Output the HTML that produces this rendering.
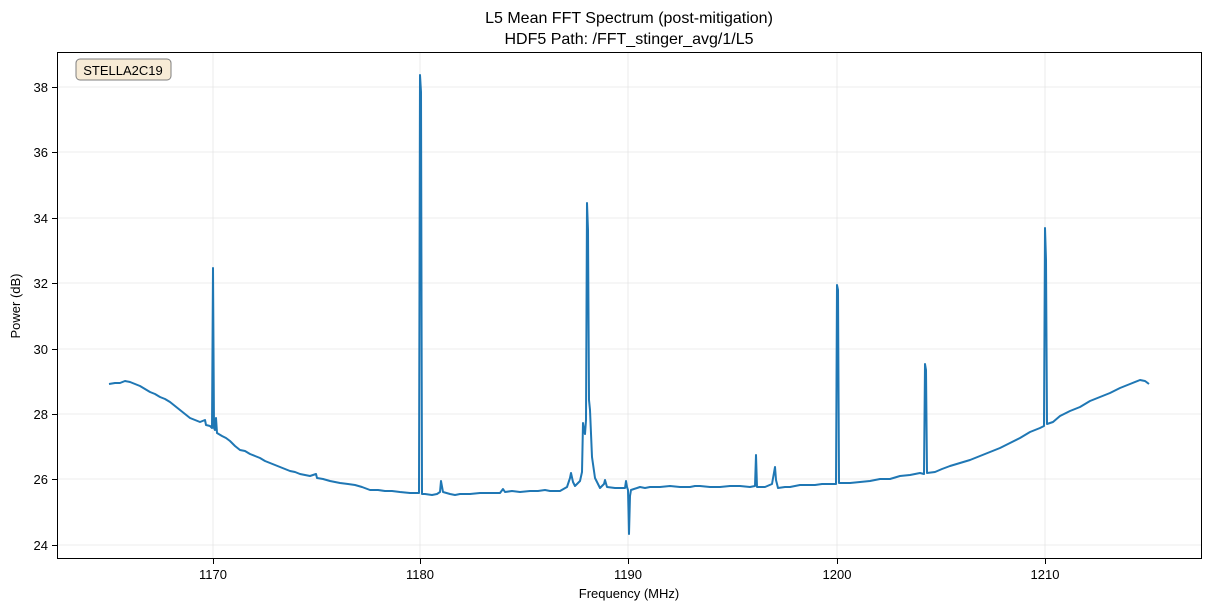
<!DOCTYPE html>
<html><head><meta charset="utf-8"><style>body{margin:0;background:#fff}</style></head><body>
<svg width="1211" height="611" xmlns="http://www.w3.org/2000/svg" font-family="Liberation Sans, DejaVu Sans, sans-serif">
<rect width="1211" height="611" fill="#fff"/>
<g stroke="#e6e6e6" stroke-width="0.8">
<line x1="213" y1="52" x2="213" y2="559"/><line x1="420" y1="52" x2="420" y2="559"/><line x1="628" y1="52" x2="628" y2="559"/><line x1="837" y1="52" x2="837" y2="559"/><line x1="1045" y1="52" x2="1045" y2="559"/>
<line x1="57" y1="87" x2="1202" y2="87"/><line x1="57" y1="152" x2="1202" y2="152"/><line x1="57" y1="218" x2="1202" y2="218"/><line x1="57" y1="283" x2="1202" y2="283"/><line x1="57" y1="349" x2="1202" y2="349"/><line x1="57" y1="414" x2="1202" y2="414"/><line x1="57" y1="479" x2="1202" y2="479"/><line x1="57" y1="545" x2="1202" y2="545"/>
</g>
<polyline fill="none" stroke="#1f77b4" stroke-width="2" stroke-linejoin="round" points="109,384 115,383 120,383 125,381 130,382 135,384 140,386 145,389 150,392 155,394 160,397 165,399 170,402 175,406 180,410 185,414 190,418 195,420 200,422 205,420 206,425 210,426 212,428 213,268 214,428 215,430 216,418 217,433 222,436 226,438 230,441 235,446 240,450 245,451 250,454 255,456 260,458 265,461 270,463 275,465 280,467 285,469 290,471 295,472 300,474 305,475 310,476 316,474 317,478 323,479 330,481 335,482 340,483 348,484 355,485 362,487 370,490 378,490 385,491 392,491 400,492 410,493 418,493 419,493 420,75 421,92 422,494 425,494 432,495 437,494 440,492 441,481 443,492 450,494 455,495 460,494 470,494 480,493 490,493 500,493 503,489 505,492 512,491 520,492 530,491 538,491 545,490 550,491 560,491 567,487 570,478 571,473 573,482 575,486 580,481 582,472 583,423 584,430 585,434 586,420 587,203 588,230 589,400 590,410 592,457 595,478 600,488 604,484 605,480 607,487 615,488 625,488 626,481 627,487 628,490 629,534 630,496 631,490 640,487 645,488 650,487 660,487 670,486 680,487 690,487 695,486 700,486 710,487 720,487 730,486 740,486 750,487 755,486 756,455 757,487 765,487 772,484 775,467 776,480 778,488 785,487 790,487 800,485 808,485 815,485 822,484 830,484 836,484 837,285 838,290 839,483 845,483 850,483 860,482 870,481 875,480 880,479 890,479 900,476 910,475 920,473 924,474 925,364 926,370 927,473 935,472 942,469 950,466 960,463 970,460 980,456 990,452 1000,448 1010,443 1020,438 1030,432 1040,428 1044,426 1045,228 1046,260 1047,424 1053,422 1060,416 1070,411 1080,407 1090,401 1100,397 1110,393 1120,388 1130,384 1140,380 1145,381 1149,384"/>
<rect x="57.5" y="52.5" width="1144" height="506" fill="none" stroke="#000" stroke-width="1"/>
<g stroke="#000" stroke-width="1">
<line x1="213.5" y1="559" x2="213.5" y2="564"/><line x1="420.5" y1="559" x2="420.5" y2="564"/><line x1="628.5" y1="559" x2="628.5" y2="564"/><line x1="837.5" y1="559" x2="837.5" y2="564"/><line x1="1045.5" y1="559" x2="1045.5" y2="564"/>
<line x1="52" y1="87.5" x2="57" y2="87.5"/><line x1="52" y1="152.5" x2="57" y2="152.5"/><line x1="52" y1="218.5" x2="57" y2="218.5"/><line x1="52" y1="283.5" x2="57" y2="283.5"/><line x1="52" y1="349.5" x2="57" y2="349.5"/><line x1="52" y1="414.5" x2="57" y2="414.5"/><line x1="52" y1="479.5" x2="57" y2="479.5"/><line x1="52" y1="545.5" x2="57" y2="545.5"/>
</g>
<g font-size="13" text-anchor="middle" fill="#000">
<text x="213" y="579">1170</text><text x="420" y="579">1180</text><text x="628" y="579">1190</text><text x="837" y="579">1200</text><text x="1045" y="579">1210</text>
</g>
<g font-size="13" text-anchor="end" fill="#000">
<text x="48" y="92">38</text><text x="48" y="157">36</text><text x="48" y="223">34</text><text x="48" y="288">32</text><text x="48" y="354">30</text><text x="48" y="419">28</text><text x="48" y="484">26</text><text x="48" y="550">24</text>
</g>
<text x="629" y="598" font-size="13" text-anchor="middle">Frequency (MHz)</text>
<text transform="translate(20,306) rotate(-90)" font-size="13" text-anchor="middle">Power (dB)</text>
<text x="629" y="23" font-size="16" text-anchor="middle">L5 Mean FFT Spectrum (post-mitigation)</text>
<text x="629" y="44" font-size="16" text-anchor="middle">HDF5 Path: /FFT_stinger_avg/1/L5</text>
<rect x="76" y="59" width="95" height="21" rx="4" fill="#f5e6cc" fill-opacity="0.8" stroke="#7f7f7f"/>
<text x="123" y="75" font-size="13" text-anchor="middle">STELLA2C19</text>
</svg>
</body></html>
